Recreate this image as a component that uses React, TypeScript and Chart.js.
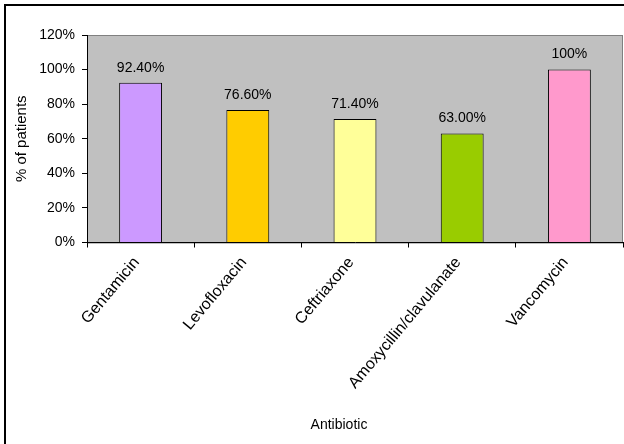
import React, { useEffect, useRef } from "react";
import { Chart, registerables } from "chart.js";

Chart.register(...registerables);

const categories = ["Gentamicin", "Levofloxacin", "Ceftriaxone", "Amoxycillin/clavulanate", "Vancomycin"];
const values = [92.4, 76.6, 71.4, 63.0, 100];
const valueLabels = ["92.40%", "76.60%", "71.40%", "63.00%", "100%"];
const barColors = ["#CC99FF", "#FFCC00", "#FFFF99", "#99CC00", "#FF99CC"];
const yTicks = [0, 20, 40, 60, 80, 100, 120];
const yTitle = "% of patients";
const xTitle = "Antibiotic";

const FONT = "'Liberation Sans', Arial, sans-serif";

const backgroundPlugin = {
  id: "bgPlugin",
  beforeDraw(chart: any) {
    const { ctx, chartArea, width, height } = chart;
    ctx.save();
    ctx.fillStyle = "#FFFFFF";
    ctx.fillRect(0, 0, width, height);
    ctx.strokeStyle = "#000000";
    ctx.lineWidth = 2;
    ctx.strokeRect(5, 5, width + 20, height + 20);
    ctx.fillStyle = "#C0C0C0";
    ctx.fillRect(chartArea.left, chartArea.top, chartArea.right - chartArea.left, chartArea.bottom - chartArea.top);
    ctx.strokeStyle = "#808080";
    ctx.lineWidth = 1;
    ctx.strokeRect(chartArea.left + 0.5, chartArea.top + 0.5, chartArea.right - chartArea.left - 1, chartArea.bottom - chartArea.top);
    ctx.restore();
  },
};

const textPlugin = {
  id: "valueLabels",
  afterDatasetsDraw(chart: any) {
    const { ctx } = chart;
    const meta = chart.getDatasetMeta(0);
    ctx.save();
    ctx.fillStyle = "#000000";
    ctx.font = `14px ${FONT}`;
    ctx.textAlign = "center";
    ctx.textBaseline = "middle";
    meta.data.forEach((bar: any, i: number) => {
      ctx.fillText(valueLabels[i], bar.x, bar.y - 15);
    });
    // x-axis title, centred as in the original (slightly left of plot centre)
    const xs = chart.scales.x;
    const cx = (chart.chartArea.left + chart.chartArea.right) / 2 - 16;
    ctx.fillText(xTitle, cx, xs.bottom - 19);
    ctx.restore();
  },
};

export default function App() {
  const canvasRef = useRef<HTMLCanvasElement | null>(null);

  useEffect(() => {
    if (!canvasRef.current) return;
    const chart = new Chart(canvasRef.current, {
      type: "bar",
      data: {
        labels: categories,
        datasets: [
          {
            data: values,
            backgroundColor: barColors,
            borderColor: "#000000",
            borderWidth: 1,
            categoryPercentage: 1,
            barPercentage: 0.4,
          },
        ],
      },
      options: {
        responsive: false,
        animation: false,
        devicePixelRatio: 1,
        layout: { padding: { top: 35, left: 0, right: 1, bottom: 0 } },
        plugins: {
          legend: { display: false },
          tooltip: { enabled: false },
          title: { display: false },
        },
        scales: {
          x: {
            offset: true,
            grid: {
              display: true,
              drawOnChartArea: false,
              drawTicks: true,
              tickLength: 5,
              color: "#000000",
              offset: true,
            },
            border: { display: true, color: "#000000", width: 1 },
            ticks: {
              autoSkip: false,
              maxRotation: 50,
              minRotation: 50,
              color: "#000000",
              padding: 6,
              labelOffset: -4,
              font: { family: FONT, size: 16 },
            },
            title: { display: false },
            afterFit: (s: any) => {
              s.height = 201.5;
            },
          },
          y: {
            min: 0,
            max: 120,
            afterBuildTicks: (s: any) => {
              s.ticks = yTicks.map((v) => ({ value: v }));
            },
            grid: {
              display: true,
              drawOnChartArea: false,
              drawTicks: true,
              tickLength: 5,
              color: "#000000",
            },
            border: { display: true, color: "#000000", width: 1 },
            ticks: {
              color: "#000000",
              padding: 7,
              font: { family: FONT, size: 14 },
              callback: (v: any) => `${v}%`,
            },
            title: {
              display: true,
              text: yTitle,
              color: "#000000",
              font: { family: FONT, size: 15 },
              padding: { top: 13, bottom: 0 },
            },
            afterFit: (s: any) => {
              s.width = 87;
            },
          },
        },
      },
      plugins: [backgroundPlugin, textPlugin],
    });
    return () => chart.destroy();
  }, []);

  return (
    <div style={{ position: "fixed", left: 0, top: 0, width: 624, height: 444 }}>
      <canvas ref={canvasRef} width={624} height={444} style={{ display: "block" }} />
    </div>
  );
}
